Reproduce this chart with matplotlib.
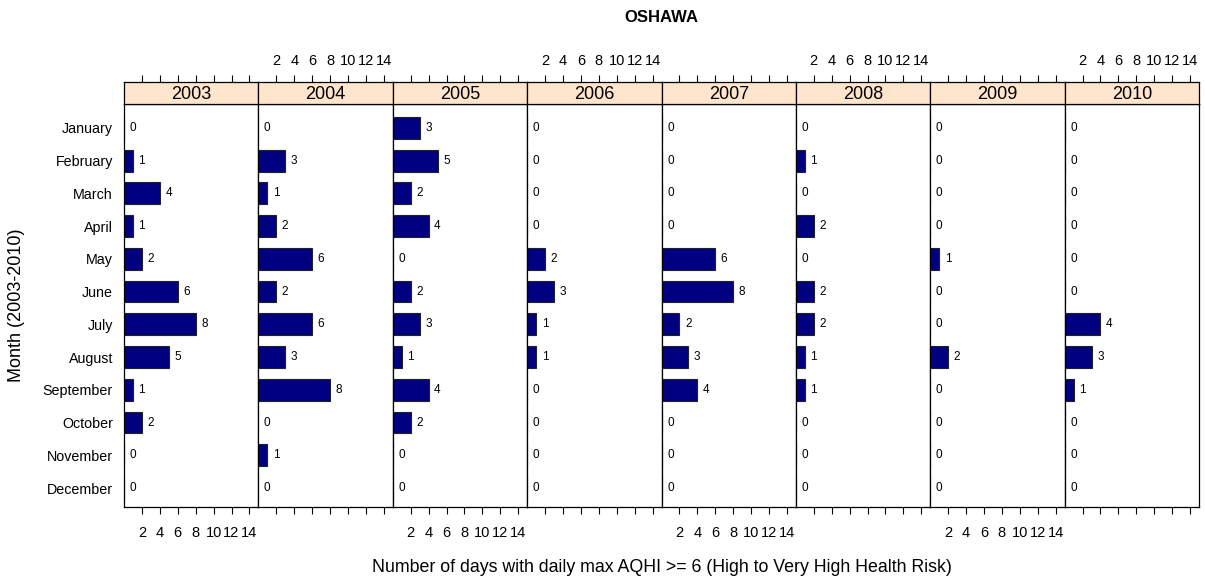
import numpy as np
import matplotlib
matplotlib.use('Agg')
import matplotlib.pyplot as plt

plt.rcParams['font.family'] = ['Liberation Sans', 'DejaVu Sans']

# data
months = ['January', 'February', 'March', 'April', 'May', 'June', 'July',
          'August', 'September', 'October', 'November', 'December']
years = ['2003', '2004', '2005', '2006', '2007', '2008', '2009', '2010']
days_2003 = [0, 1, 4, 1, 2, 6, 8, 5, 1, 2, 0, 0]
days_2004 = [0, 3, 1, 2, 6, 2, 6, 3, 8, 0, 1, 0]
days_2005 = [3, 5, 2, 4, 0, 2, 3, 1, 4, 2, 0, 0]
days_2006 = [0, 0, 0, 0, 2, 3, 1, 1, 0, 0, 0, 0]
days_2007 = [0, 0, 0, 0, 6, 8, 2, 3, 4, 0, 0, 0]
days_2008 = [0, 1, 0, 2, 0, 2, 2, 1, 1, 0, 0, 0]
days_2009 = [0, 0, 0, 0, 1, 0, 0, 2, 0, 0, 0, 0]
days_2010 = [0, 0, 0, 0, 0, 0, 4, 3, 1, 0, 0, 0]
x_ticks = [2, 4, 6, 8, 10, 12, 14]

all_days = [days_2003, days_2004, days_2005, days_2006,
            days_2007, days_2008, days_2009, days_2010]

W, H = 1205, 582
fig = plt.figure(figsize=(W / 100, H / 100), dpi=100)

left_px, right_px = 124, 1199
top_px, bot_px, strip_top = 104, 507, 82
pw = (right_px - left_px) / len(years)

y = np.arange(1, 13)
for i, (yr, vals) in enumerate(zip(years, all_days)):
    x0 = (left_px + i * pw) / W
    ax = fig.add_axes([x0, 1 - bot_px / H, pw / W, (bot_px - top_px) / H])
    ax.barh(y, vals, height=2 / 3, color='#000080', edgecolor='#222222', linewidth=0.8)
    for yy, v in zip(y, vals):
        ax.annotate(str(v), (v, yy), xytext=(4, 0), textcoords='offset points',
                    va='center', ha='left', fontsize=8.5)
    ax.set_xlim(0, 15)
    ax.set_ylim(12.58, 0.27)
    ax.set_xticks(x_ticks)
    ax.tick_params(axis='x', direction='out', length=5, width=0.8, labelsize=10.5, pad=9)
    if i % 2 == 1:
        ax.set_xticklabels([])
    if i == 0:
        ax.set_yticks(y)
        ax.set_yticklabels(months, fontsize=10.3)
        ax.tick_params(axis='y', length=0, pad=8)
    else:
        ax.set_yticks([])
    for s in ax.spines.values():
        s.set_linewidth(0.9)

    # strip with top ticks
    sx = fig.add_axes([x0, 1 - top_px / H, pw / W, (top_px - strip_top) / H])
    sx.set_facecolor('#ffe5cc')
    sx.set_xlim(0, 15)
    sx.set_yticks([])
    sx.xaxis.tick_top()
    sx.set_xticks(x_ticks)
    sx.tick_params(axis='x', direction='out', length=5, width=0.8, labelsize=10.5, pad=5)
    if i % 2 == 0:
        sx.set_xticklabels([])
    sx.text(0.5, 0.45, yr, transform=sx.transAxes, ha='center', va='center', fontsize=13)
    for s in sx.spines.values():
        s.set_linewidth(0.9)

cx = (left_px + right_px) / 2 / W
fig.text(cx, 1 - 17 / H, 'OSHAWA', ha='center', va='center', fontsize=12, fontweight='bold')
fig.text(cx, 1 - 568 / H, 'Number of days with daily max AQHI >= 6 (High to Very High Health Risk)',
         ha='center', va='center', fontsize=12.8)
fig.text(17 / W, 1 - (top_px + bot_px) / 2 / H, 'Month (2003-2010)', rotation=90,
         ha='center', va='center', fontsize=13)

fig.savefig('out.png', dpi=100)
